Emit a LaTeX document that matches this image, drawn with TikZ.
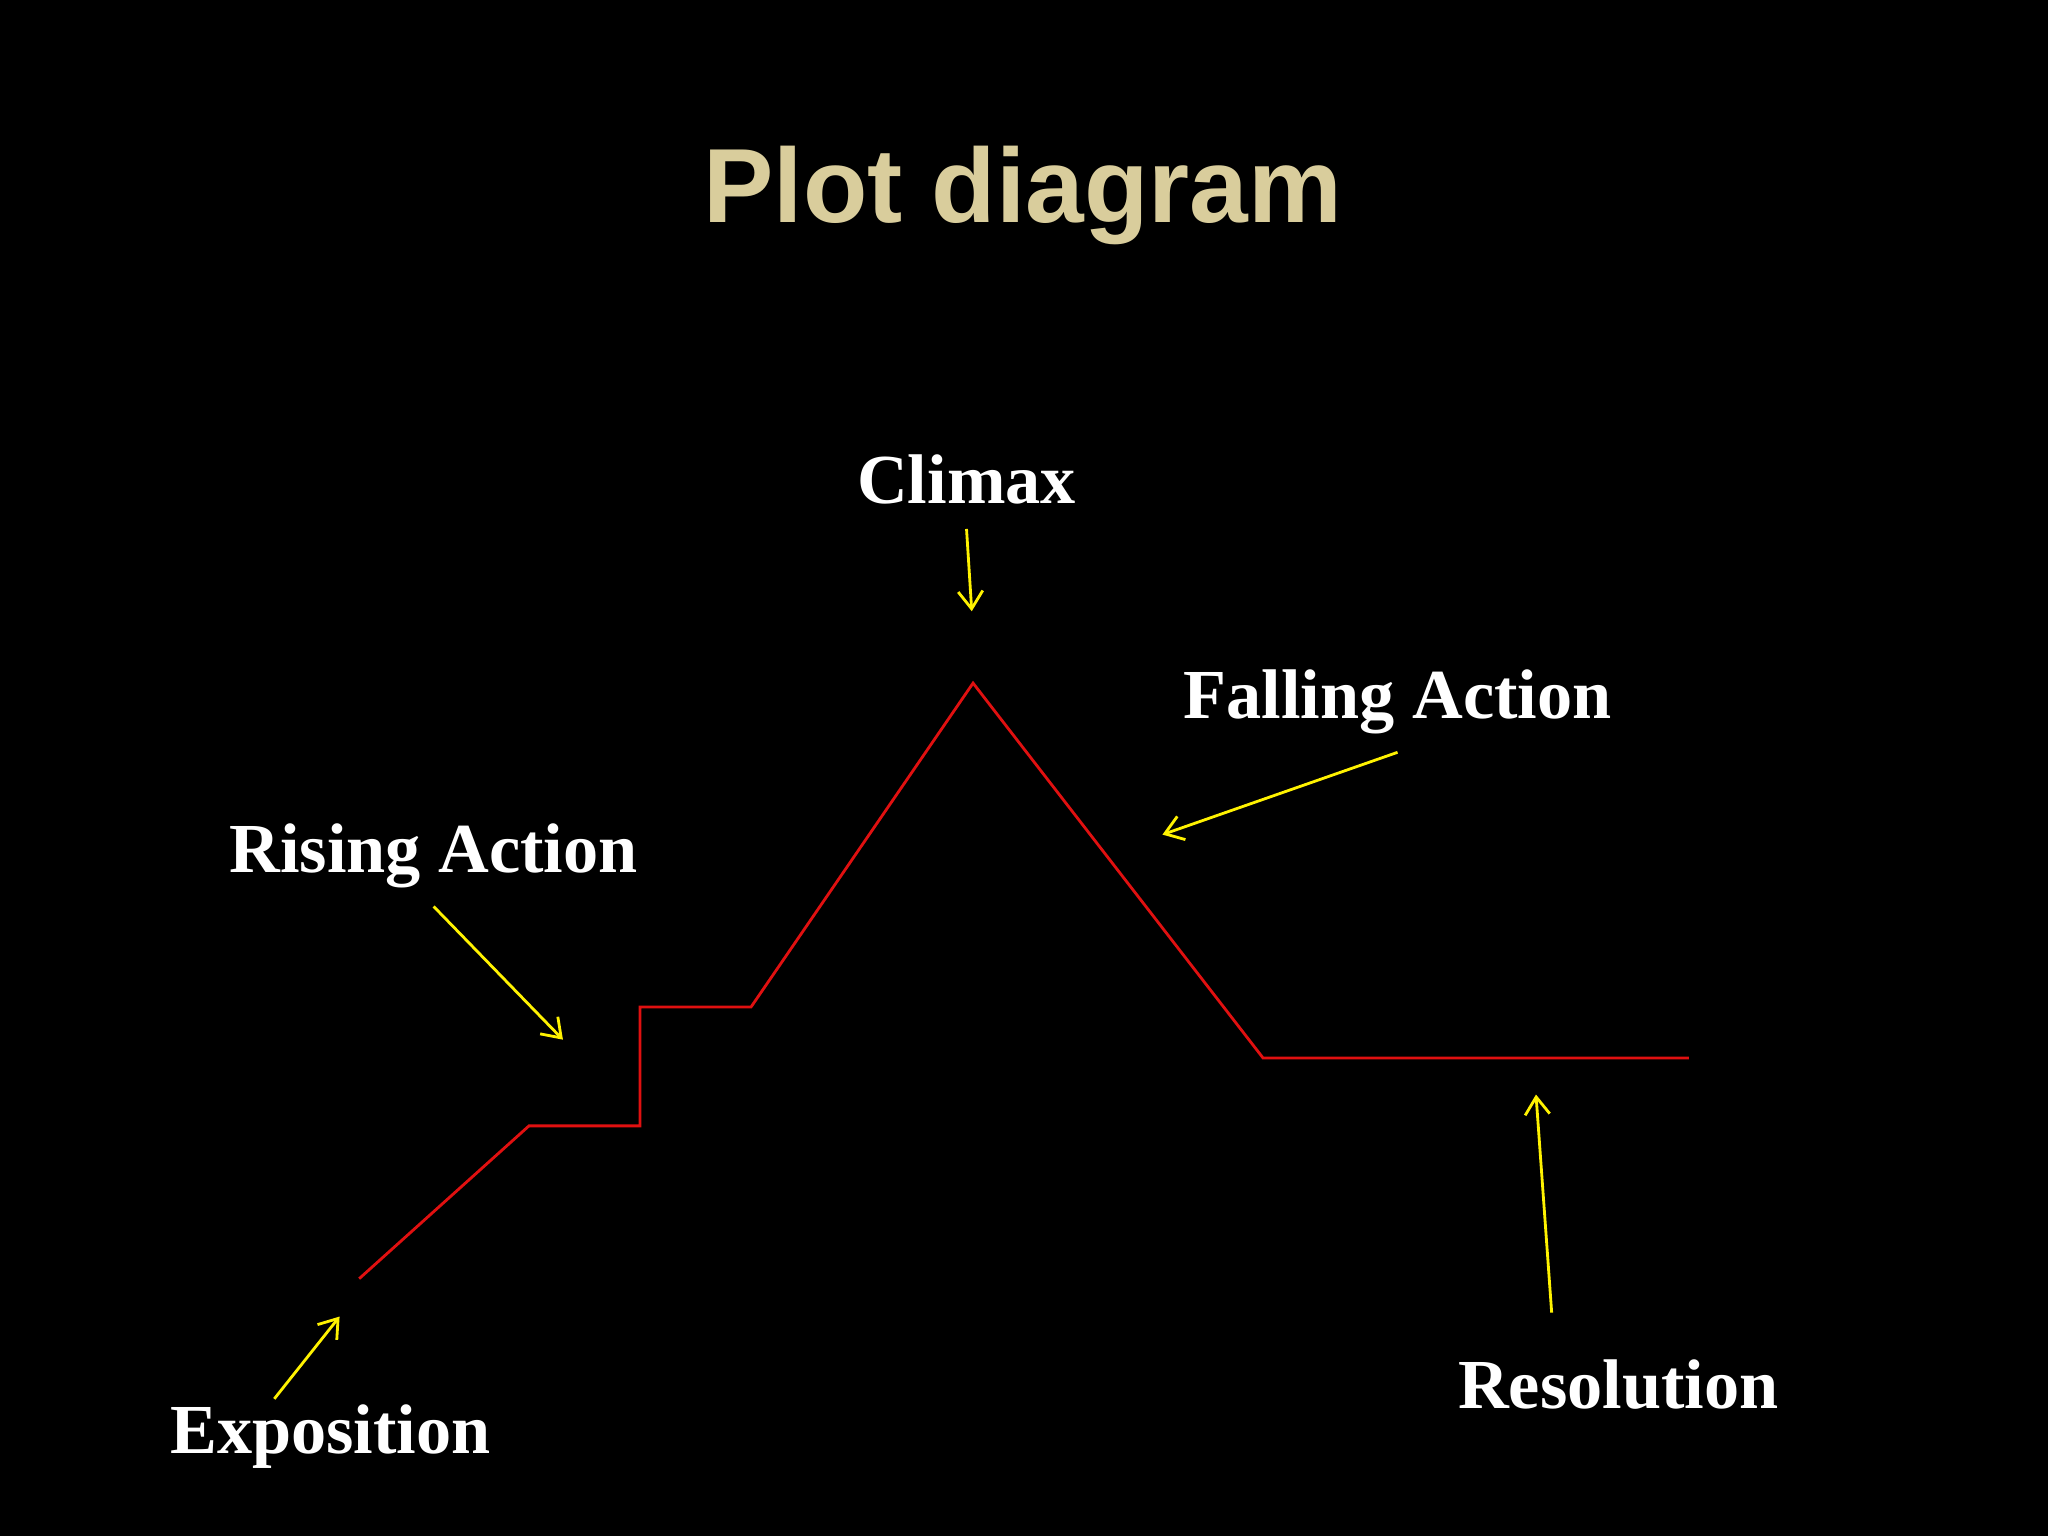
\documentclass[tikz,border=0pt]{standalone}
\usepackage{fontspec}
\setmainfont{Liberation Serif}
\newfontfamily\titlefont{Liberation Sans}
\usetikzlibrary{arrows.meta}
\definecolor{titlec}{HTML}{D9CD9C}
\definecolor{plotred}{HTML}{E01010}
\tikzset{
  lbl/.style={text=white,font=\bfseries\fontsize{20}{24}\selectfont,inner sep=0pt},
  ptr/.style={draw=yellow,line width=0.8pt,-{Straight Barb[length=5pt,width=7pt]}},
  plotline/.style={draw=plotred,line width=0.8pt}
}
\begin{document}
\begin{tikzpicture}[x=0.01306cm,y=-0.01306cm]
\fill[black] (0,0) rectangle (1568,1176);
\useasboundingbox (0,0) rectangle (1568,1176);
\node[text=titlec,font=\titlefont\bfseries\fontsize{30}{36}\selectfont,inner sep=0pt] (title) at (783,150) {Plot diagram};
\coordinate (p1) at (275,979);
\coordinate (p2) at (405,862);
\coordinate (p3) at (490,862);
\coordinate (p4) at (490,771);
\coordinate (p5) at (575,771);
\coordinate (p6) at (745,523);
\coordinate (p7) at (967,810);
\coordinate (p8) at (1293,810);
\draw[plotline] (p1)--(p2)--(p3)--(p4)--(p5)--(p6)--(p7)--(p8);
\node[lbl] (climax) at (740,367) {Climax};
\node[lbl] (falling) at (1070,537) {Falling Action};
\node[lbl] (rising) at (332,655) {Rising Action};
\node[lbl] (expo) at (253,1100) {Exposition};
\node[lbl] (reso) at (1239,1060) {Resolution};
\coordinate (c1) at (740,405); \coordinate (c2) at (744,468);
\coordinate (f1) at (1070,576); \coordinate (f2) at (890,639);
\coordinate (r1) at (332,694); \coordinate (r2) at (431,796);
\coordinate (e1) at (210,1071); \coordinate (e2) at (260,1008);
\coordinate (s1) at (1188,1005); \coordinate (s2) at (1176,838);
\draw[ptr] (c1)--(c2);
\draw[ptr] (f1)--(f2);
\draw[ptr] (r1)--(r2);
\draw[ptr] (e1)--(e2);
\draw[ptr] (s1)--(s2);
\end{tikzpicture}
\end{document}
